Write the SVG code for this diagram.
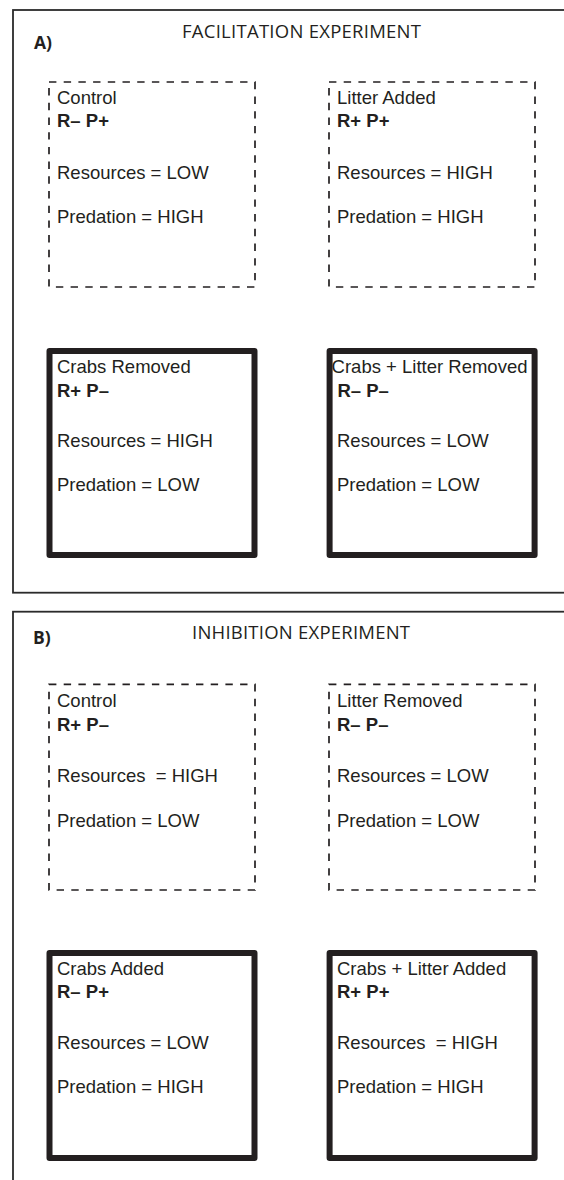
<svg xmlns="http://www.w3.org/2000/svg" width="564" height="1180" viewBox="0 0 564 1180">
<style>
.panel{fill:none;stroke:#2b2b2b;stroke-width:1.8}
.dash{fill:none;stroke:#231f20;stroke-width:1.7;stroke-dasharray:7.4 7.3}
.solid{fill:none;stroke:#231f20;stroke-width:6;stroke-linejoin:round}
.t{font-family:"Liberation Sans",Arial,sans-serif;font-size:18.5px;fill:#231f20}
.b{font-weight:bold}
.title{font-family:"Open Sans","Liberation Sans",sans-serif;font-size:18.5px;fill:#231f20}
.lab{font-family:"Open Sans","Liberation Sans",sans-serif;font-size:17.5px;font-weight:bold;fill:#231f20}
</style>
<rect width="564" height="1180" fill="#fff"/>
<g id="panelA">
<rect class="panel" x="13" y="10" width="580" height="582.7"/>
<text class="lab" x="34" y="49">A)</text>
<text class="title" x="182" y="38" textLength="239">FACILITATION EXPERIMENT</text>
</g>
<g id="panelB">
<rect class="panel" x="13" y="611.7" width="580" height="620"/>
<text class="lab" x="33" y="644">B)</text>
<text class="title" x="192" y="639" textLength="218">INHIBITION EXPERIMENT</text>
</g>
<g id="a-control">
<rect class="dash" x="49" y="82" width="206" height="205"/>
<text class="t" x="57" y="104">Control</text>
<text class="t b" x="57" y="127">R– P+</text>
<text class="t" x="57" y="179.3">Resources = LOW</text>
<text class="t" x="57" y="223.3">Predation = HIGH</text>
</g>
<g id="a-litter-added">
<rect class="dash" x="329" y="82" width="206" height="205"/>
<text class="t" x="337" y="104">Litter Added</text>
<text class="t b" x="337" y="127">R+ P+</text>
<text class="t" x="337" y="179.3">Resources = HIGH</text>
<text class="t" x="337" y="223.3">Predation = HIGH</text>
</g>
<g id="a-crabs-removed">
<rect class="solid" x="49.5" y="351" width="205" height="204"/>
<text class="t" x="57" y="372.7">Crabs Removed</text>
<text class="t b" x="57" y="396.7">R+ P–</text>
<text class="t" x="57" y="446.7">Resources = HIGH</text>
<text class="t" x="57" y="490.7">Predation = LOW</text>
</g>
<g id="a-crabs-litter-removed">
<rect class="solid" x="329.6" y="351" width="205" height="204"/>
<text class="t" x="331.6" y="372.7">Crabs + Litter Removed</text>
<text class="t b" x="337.4" y="396.7">R– P–</text>
<text class="t" x="337" y="446.7">Resources = LOW</text>
<text class="t" x="337" y="490.7">Predation = LOW</text>
</g>
<g id="b-control">
<rect class="dash" x="49" y="684.3" width="206" height="205.7"/>
<text class="t" x="57" y="707.3">Control</text>
<text class="t b" x="57" y="730.7">R+ P–</text>
<text class="t" x="57" y="781.7" xml:space="preserve">Resources  = HIGH</text>
<text class="t" x="57" y="826.7">Predation = LOW</text>
</g>
<g id="b-litter-removed">
<rect class="dash" x="329" y="684.3" width="206" height="205.7"/>
<text class="t" x="337" y="707.3">Litter Removed</text>
<text class="t b" x="337" y="730.7">R– P–</text>
<text class="t" x="337" y="781.7">Resources = LOW</text>
<text class="t" x="337" y="826.7">Predation = LOW</text>
</g>
<g id="b-crabs-added">
<rect class="solid" x="49.5" y="953" width="205" height="205"/>
<text class="t" x="57" y="975">Crabs Added</text>
<text class="t b" x="57" y="998.3">R– P+</text>
<text class="t" x="57" y="1049">Resources = LOW</text>
<text class="t" x="57" y="1093.3">Predation = HIGH</text>
</g>
<g id="b-crabs-litter-added">
<rect class="solid" x="329.6" y="953" width="205" height="205"/>
<text class="t" x="337" y="975">Crabs + Litter Added</text>
<text class="t b" x="337" y="998.3">R+ P+</text>
<text class="t" x="337" y="1049" xml:space="preserve">Resources  = HIGH</text>
<text class="t" x="337" y="1093.3">Predation = HIGH</text>
</g>
<g id="connectors"/>
</svg>
